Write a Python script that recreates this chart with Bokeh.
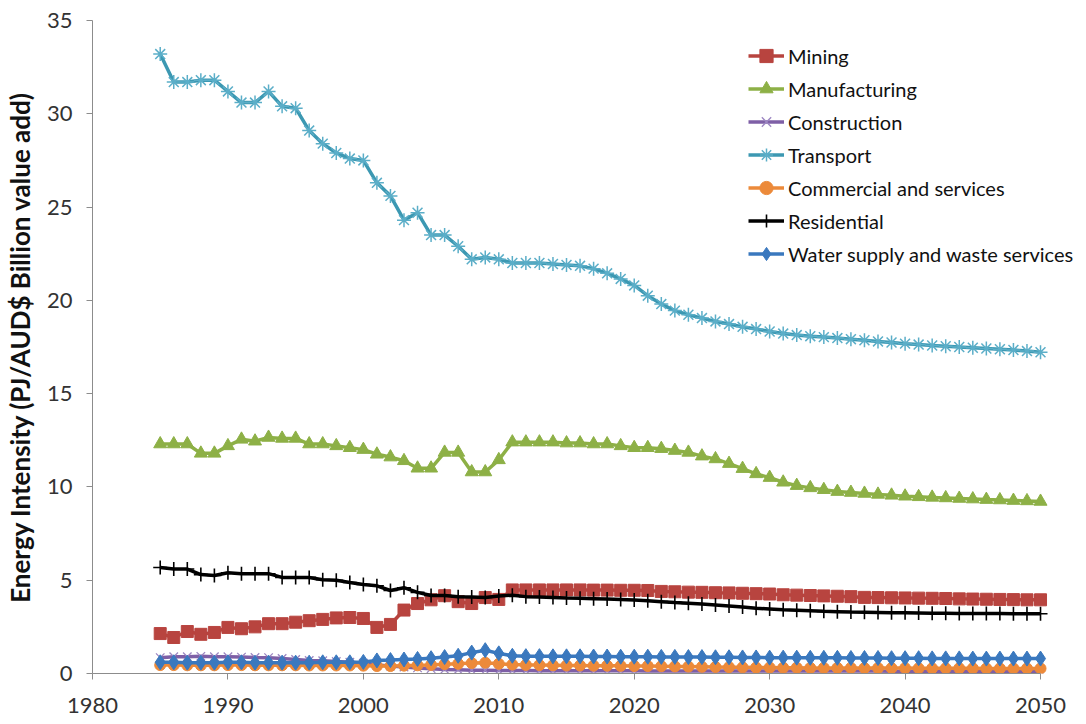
from bokeh.plotting import figure
from bokeh.models import Range1d, FixedTicker, Legend, LegendItem
from bokeh.embed import file_html
from bokeh.resources import INLINE

years = list(range(1985, 2051))

mining = [2.14, 1.93, 2.25, 2.10, 2.20, 2.47, 2.40, 2.50, 2.67, 2.67,
          2.75, 2.83, 2.90, 2.98, 3.00, 2.95, 2.47, 2.63, 3.40, 3.75,
          3.95, 4.17, 3.85, 3.75, 4.07, 3.97, 4.48, 4.48, 4.48, 4.48,
          4.48, 4.48, 4.47, 4.47, 4.46, 4.46, 4.45, 4.40, 4.38, 4.36,
          4.35, 4.33, 4.32, 4.30, 4.28, 4.26, 4.22, 4.20, 4.18, 4.16,
          4.14, 4.12, 4.08, 4.07, 4.06, 4.05, 4.04, 4.03, 4.02, 4.00,
          3.99, 3.98, 3.97, 3.96, 3.95, 3.95]

manufacturing = [12.30, 12.30, 12.30, 11.80, 11.80, 12.20, 12.55, 12.45, 12.65, 12.60,
                 12.60, 12.30, 12.30, 12.20, 12.10, 12.00, 11.75, 11.60, 11.40, 11.00,
                 11.00, 11.85, 11.85, 10.80, 10.80, 11.45, 12.40, 12.40, 12.40, 12.40,
                 12.35, 12.35, 12.30, 12.30, 12.20, 12.10, 12.10, 12.05, 11.95, 11.85,
                 11.65, 11.50, 11.25, 10.98, 10.70, 10.50, 10.25, 10.07, 9.95, 9.85,
                 9.75, 9.70, 9.65, 9.60, 9.55, 9.50, 9.47, 9.44, 9.41, 9.38,
                 9.35, 9.32, 9.30, 9.27, 9.25, 9.22]

construction = [0.85, 0.90, 0.90, 0.92, 0.90, 0.90, 0.88, 0.86, 0.85, 0.80,
                0.75, 0.70, 0.68, 0.64, 0.60, 0.55, 0.45, 0.40, 0.35, 0.30,
                0.26, 0.22, 0.20, 0.18, 0.17, 0.16, 0.16, 0.16, 0.15, 0.15,
                0.15, 0.15, 0.15, 0.15, 0.15, 0.15, 0.14, 0.14, 0.14, 0.14,
                0.14, 0.14, 0.14, 0.14, 0.13, 0.13, 0.13, 0.13, 0.13, 0.13,
                0.13, 0.13, 0.13, 0.13, 0.12, 0.12, 0.12, 0.12, 0.12, 0.12,
                0.12, 0.12, 0.12, 0.12, 0.12, 0.12]

transport = [33.20, 31.70, 31.70, 31.80, 31.80, 31.20, 30.60, 30.60, 31.20, 30.40,
             30.30, 29.10, 28.40, 27.90, 27.60, 27.50, 26.30, 25.60, 24.30, 24.70,
             23.50, 23.50, 22.90, 22.20, 22.30, 22.20, 22.00, 22.00, 22.00, 21.95,
             21.90, 21.85, 21.70, 21.45, 21.15, 20.80, 20.25, 19.80, 19.45, 19.23,
             19.05, 18.87, 18.73, 18.58, 18.46, 18.33, 18.22, 18.14, 18.08, 18.03,
             17.98, 17.92, 17.86, 17.80, 17.74, 17.68, 17.63, 17.58, 17.54, 17.50,
             17.46, 17.42, 17.38, 17.34, 17.28, 17.22]

commercial = [0.45, 0.45, 0.44, 0.44, 0.44, 0.45, 0.45, 0.44, 0.44, 0.44,
              0.44, 0.43, 0.43, 0.43, 0.43, 0.42, 0.40, 0.40, 0.42, 0.44,
              0.46, 0.50, 0.52, 0.56, 0.58, 0.52, 0.48, 0.46, 0.45, 0.44,
              0.43, 0.43, 0.42, 0.42, 0.41, 0.40, 0.40, 0.39, 0.38, 0.37,
              0.36, 0.35, 0.34, 0.33, 0.32, 0.32, 0.31, 0.31, 0.30, 0.30,
              0.30, 0.30, 0.29, 0.29, 0.29, 0.29, 0.28, 0.28, 0.28, 0.28,
              0.28, 0.27, 0.27, 0.27, 0.27, 0.27]

residential = [5.68, 5.60, 5.60, 5.30, 5.25, 5.40, 5.35, 5.35, 5.35, 5.15,
               5.15, 5.15, 5.03, 5.00, 4.88, 4.77, 4.70, 4.45, 4.60, 4.35,
               4.18, 4.18, 4.12, 4.10, 4.07, 4.15, 4.20, 4.12, 4.10, 4.08,
               4.05, 4.03, 4.01, 3.99, 3.97, 3.94, 3.90, 3.85, 3.80, 3.76,
               3.72, 3.67, 3.62, 3.56, 3.50, 3.46, 3.42, 3.39, 3.36, 3.33,
               3.31, 3.29, 3.28, 3.27, 3.26, 3.25, 3.24, 3.23, 3.23, 3.22,
               3.22, 3.21, 3.21, 3.20, 3.20, 3.20]

water = [0.60, 0.60, 0.58, 0.58, 0.58, 0.60, 0.60, 0.58, 0.58, 0.58,
         0.58, 0.58, 0.60, 0.60, 0.60, 0.62, 0.70, 0.72, 0.75, 0.78,
         0.82, 0.88, 0.95, 1.12, 1.25, 1.08, 0.95, 0.93, 0.93, 0.92,
         0.92, 0.92, 0.91, 0.91, 0.90, 0.90, 0.90, 0.89, 0.89, 0.88,
         0.88, 0.87, 0.87, 0.86, 0.86, 0.85, 0.85, 0.85, 0.84, 0.84,
         0.84, 0.83, 0.83, 0.83, 0.82, 0.82, 0.82, 0.81, 0.81, 0.81,
         0.80, 0.80, 0.80, 0.80, 0.80, 0.80]

series_names = ["Mining", "Manufacturing", "Construction", "Transport",
                "Commercial and services", "Residential", "Water supply and waste services"]
series_values = [mining, manufacturing, construction, transport, commercial, residential, water]

x_ticks = [1980, 1990, 2000, 2010, 2020, 2030, 2040, 2050]
y_ticks = [0, 5, 10, 15, 20, 25, 30, 35]
y_title = "Energy Intensity (PJ/AUD$ Billion value add)"

for v in series_values:
    assert len(v) == len(years), len(v)

styles = [
    dict(color="#B8443F", marker="square", size=12, mline="#B8443F", mfill="#B8443F", mlw=1),
    dict(color="#8DB046", marker="triangle", size=13, mline="#8DB046", mfill="#8DB046", mlw=1),
    dict(color="#7E5FA6", marker="x", size=12, mline="#9C86C2", mfill=None, mlw=1.3),
    dict(color="#3C98B2", marker="asterisk", size=14, mline="#5BAEC8", mfill=None, mlw=1.5),
    dict(color="#EC8A3A", marker="circle", size=11, mline="#EC8A3A", mfill="#EC8A3A", mlw=1),
    dict(color="#000000", marker="cross", size=14, mline="#000000", mfill=None, mlw=1.6),
    dict(color="#3A78BE", marker="diamond", size=15, mline="#3A78BE", mfill="#3A78BE", mlw=1),
]

FONT = "Lato"

p = figure(frame_width=990, frame_height=653,
           min_border_left=92, min_border_right=4, min_border_top=20, min_border_bottom=45,
           x_range=Range1d(1980, 2053.1), y_range=Range1d(0, 35),
           output_backend="svg", toolbar_location=None)
p.outline_line_color = None
p.xgrid.visible = False
p.ygrid.visible = False
p.background_fill_color = "white"
p.border_fill_color = "white"

for ax in (p.xaxis[0], p.yaxis[0]):
    ax.axis_line_color = "#8C8C8C"
    ax.major_tick_line_color = "#8C8C8C"
    ax.minor_tick_line_color = None
    ax.major_tick_in = 0
    ax.major_tick_out = 6
    ax.major_label_text_font = FONT
    ax.major_label_text_font_size = "22px"
    ax.major_label_text_color = "#333333"

p.xaxis[0].ticker = FixedTicker(ticks=x_ticks)
p.xaxis[0].bounds = (1980, 2050)
p.yaxis[0].ticker = FixedTicker(ticks=y_ticks)
p.xaxis[0].major_label_standoff = 18
p.yaxis[0].major_label_standoff = 14
p.yaxis[0].axis_label = y_title
p.yaxis[0].axis_label_text_font = FONT
p.yaxis[0].axis_label_text_font_style = "bold"
p.yaxis[0].axis_label_text_font_size = "26px"
p.yaxis[0].axis_label_text_color = "#111111"
p.yaxis[0].axis_label_standoff = 8

items = []
for name, vals, st in zip(series_names, series_values, styles):
    ln = p.line(years, vals, line_color=st["color"], line_width=3.5)
    kw = dict(marker=st["marker"], size=st["size"], line_color=st["mline"], line_width=st["mlw"])
    if st["mfill"] is None:
        kw["fill_alpha"] = 0
    else:
        kw["fill_color"] = st["mfill"]
    sc = p.scatter(years, vals, **kw)
    items.append(LegendItem(label=name, renderers=[ln, sc]))

legend = Legend(items=items, location=(656, 403),
                glyph_width=36, glyph_height=33, label_height=33,
                label_standoff=4, spacing=0, padding=0, margin=0,
                label_text_font=FONT, label_text_font_size="20px",
                label_text_color="#111111",
                border_line_color=None, background_fill_alpha=0)
p.add_layout(legend)

open("out.html", "w").write(file_html(p, INLINE))
